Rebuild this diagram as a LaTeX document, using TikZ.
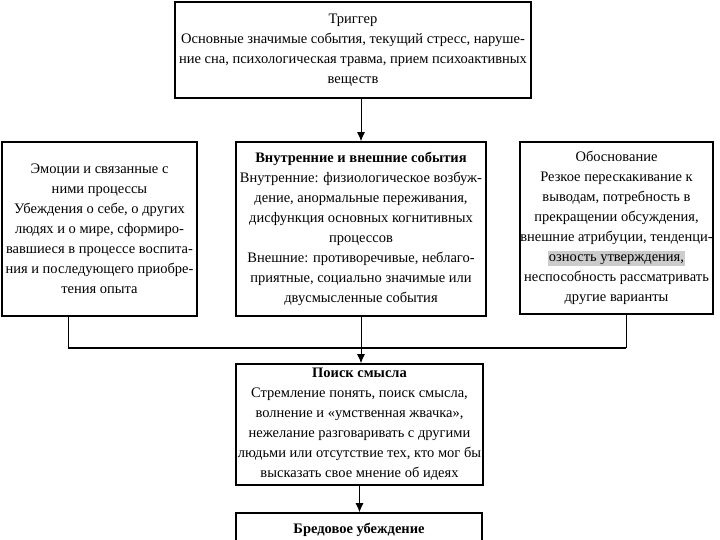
\documentclass[tikz,border=0pt]{standalone}
\usepackage{fontspec}
\setmainfont{Liberation Serif}
\usetikzlibrary{arrows.meta}

\begin{document}
\begin{tikzpicture}[x=1bp,y=-1bp]
	\tikzset{box/.style={draw,line width=1.6bp,fill=white,inner sep=0pt,align=center,
		font={\fontsize{14.5bp}{20bp}\selectfont}}}
	\tikzset{link/.style={line width=1bp,-{Latex[length=9bp,width=8bp]}}}
	\tikzset{bus/.style={line width=2.4bp}}

	\useasboundingbox (0,0) rectangle (720,540);

	% top box
	\node[box,minimum width=356bp,minimum height=96bp] (trigger) at (353,50)
		{Триггер\\
		Основные значимые события, текущий стресс, наруше-\\
		ние сна, психологическая травма, прием психоактивных\\
		веществ};

	% second row
	\node[box,minimum width=195bp,minimum height=174bp] (emotions) at (99.5,229)
		{Эмоции и связанные с\\
		ними процессы\\
		Убеждения о себе, о других\\
		людях и о мире, сформиро-\\
		вавшиеся в процессе воспита-\\
		ния и последующего приобре-\\
		тения опыта};
	\node[box,minimum width=250bp,minimum height=174bp] (events) at (361,229)
		{\textbf{Внутренние и внешние события}\\
		Внутренние: физиологическое возбуж-\\
		дение, анормальные переживания,\\
		дисфункция основных когнитивных\\
		процессов\\
		Внешние: противоречивые, неблаго-\\
		приятные, социально значимые или\\
		двусмысленные события};
	\node[box,minimum width=193bp,minimum height=172bp] (reason) at (616.5,228)
		{Обоснование\\
		Резкое перескакивание к\\
		выводам, потребность в\\
		прекращении обсуждения,\\
		внешние атрибуции, тенденци-\\
		{\setlength{\fboxsep}{1bp}\colorbox{gray!40}{\vphantom{Ay}озность утверждения,}}\\
		неспособность рассматривать\\
		другие варианты};

	% third row
	\node[box,minimum width=247bp,minimum height=121bp] (search) at (359.5,424.5)
		{\textbf{Поиск смысла}\\
		Стремление понять, поиск смысла,\\
		волнение и «умственная жвачка»,\\
		нежелание разговаривать с другими\\
		людьми или отсутствие тех, кто мог бы\\
		высказать свое мнение об идеях};

	% last box
	\node[box,minimum width=246bp,minimum height=80bp,text depth=50bp] (delusion) at (359,553)
		{\textbf{Бредовое убеждение}};

	% connectors
	\coordinate (busL) at (68,348);
	\coordinate (busR) at (626,348);

	\draw[link] (trigger.south -| events.north) -- (events.north);
	\draw[line width=1bp] (emotions.south -| busL) -- (busL);
	\draw[line width=1bp] (reason.south -| busR) -- (busR);
	\draw[bus] (busL) -- (busR);
	\draw[link] (events.south) -- (events.south |- search.north);
	\draw[link] (search.south) -- (search.south |- delusion.north);

\end{tikzpicture}
\end{document}
